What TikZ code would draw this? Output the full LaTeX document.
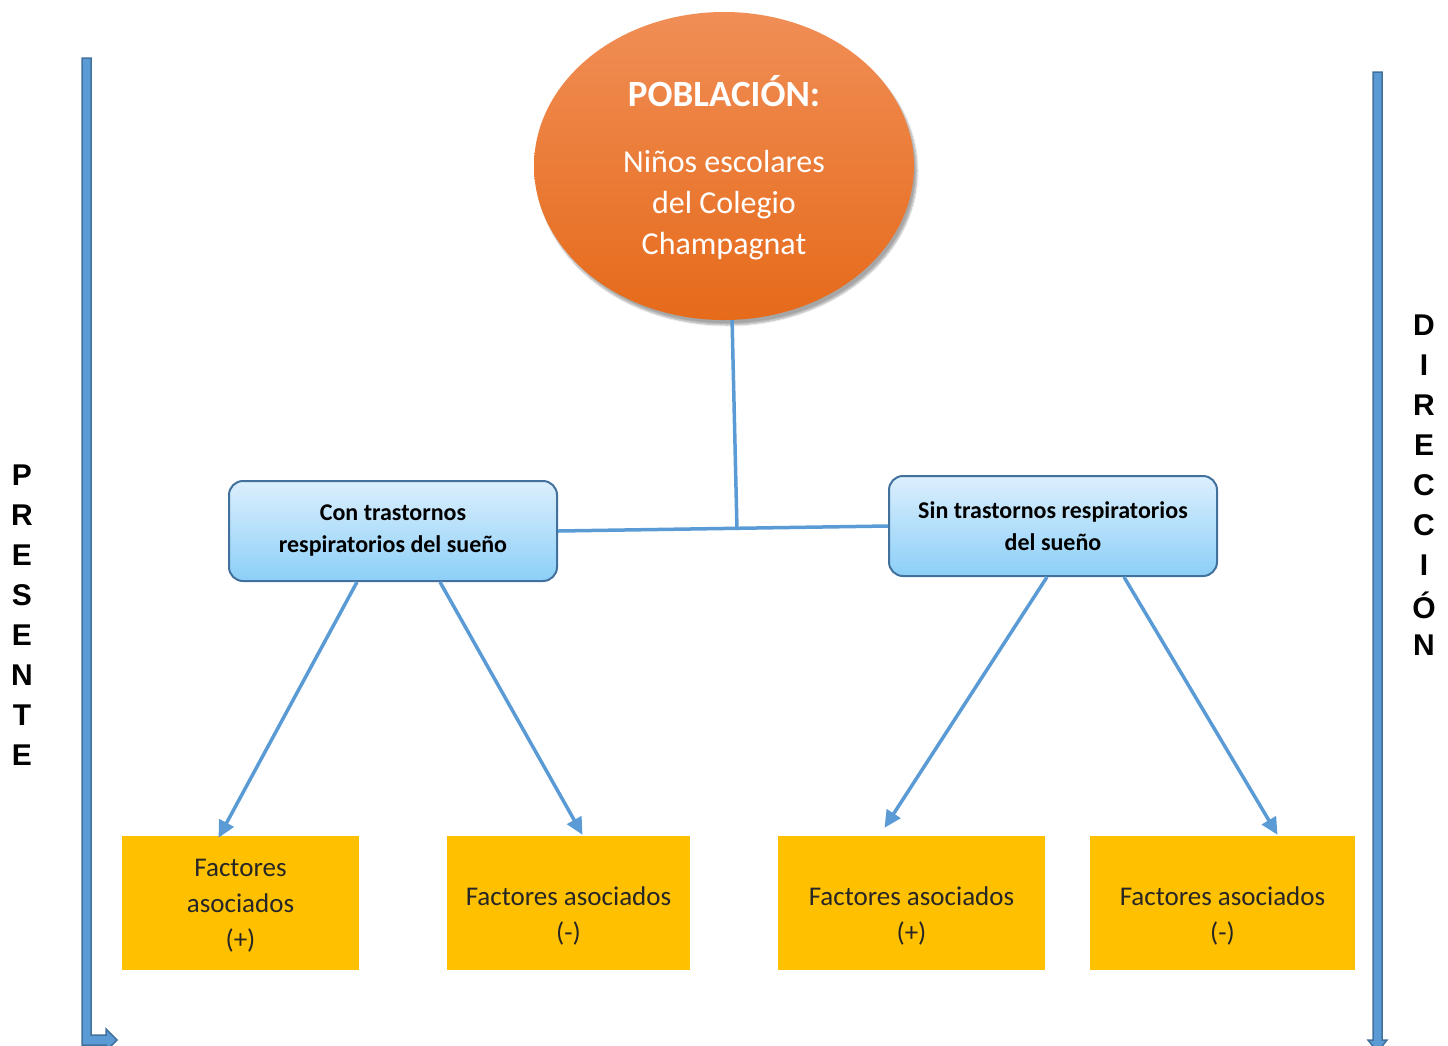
\documentclass[tikz,border=0pt]{standalone}
\usepackage{fontspec}
\setmainfont{Carlito}
\newfontfamily\arialf{Liberation Sans}
\usetikzlibrary{shapes.geometric,arrows.meta,shadows.blur}

\definecolor{lineaazul}{HTML}{5B9BD5}
\definecolor{bordeazul}{HTML}{41719C}
\definecolor{cajaarriba}{HTML}{DCEFFD}
\definecolor{cajaabajo}{HTML}{8CCFF8}
\definecolor{naranjaarriba}{HTML}{F08E56}
\definecolor{naranjaabajo}{HTML}{E66A1A}
\definecolor{amarillo}{HTML}{FFC000}

\tikzset{
	caja/.style={draw=bordeazul, line width=2pt, rounded corners=14pt, top color=cajaarriba, bottom color=cajaabajo,
		minimum width=328pt, minimum height=100pt, align=center, font=\bfseries\fontsize{24}{32}\selectfont},
	factor/.style={fill=amarillo, minimum height=134pt},
	factortxt/.style={align=center, text=black!85, font=\fontsize{27}{36}\selectfont},
	flecha/.style={draw=lineaazul, line width=3.5pt, -{Triangle[length=17pt,width=16pt]}},
	linea/.style={draw=lineaazul, line width=3.5pt},
	letra/.style={font=\arialf\bfseries\fontsize{30}{30}\selectfont},
	barra/.style={fill=lineaazul, draw=bordeazul, line width=1.5pt}
}

\begin{document}
\begin{tikzpicture}[x=1pt, y=-1pt]
	\useasboundingbox (0,0) rectangle (1448,1045);

	% barras laterales
	\draw[barra] (82,58) -- (91,58) -- (91,1035) -- (106,1035) -- (106,1029) -- (117,1040)
		-- (106,1051) -- (106,1045) -- (82,1045) -- cycle;
	\draw[barra] (1373,72) -- (1382,72) -- (1382,1040) -- (1387,1040) -- (1377.5,1052)
		-- (1368,1040) -- (1373,1040) -- cycle;

	\foreach \l [count=\i] in {P,R,E,S,E,N,T,E}
		\node[letra] (pres\i) at (22, 435+40*\i) {\l};
	\foreach \l [count=\i] in {D,I,R,E,C,C,I,Ó,N}
		\node[letra] (dir\i) at (1424, 285+40*\i) {\l};

	% poblacion
	\node[ellipse, minimum width=380pt, minimum height=308pt, inner sep=0pt,
		top color=naranjaarriba, bottom color=naranjaabajo,
		blur shadow={shadow xshift=3pt, shadow yshift=-5pt, shadow opacity=35, shadow blur steps=8}] (pob) at (724,166) {};
	\node[text=white, align=center, font=\fontsize{32}{41}\selectfont] (pobtxt) at (724,168)
		{{\bfseries\fontsize{37}{40}\selectfont POBLACIÓN:}\\[25pt] Niños escolares\\del Colegio\\Champagnat};

	\node[caja] (con) at (393,531) {Con trastornos\\respiratorios del sueño};
	\node[caja] (sin) at (1053,526) {Sin trastornos respiratorios\\del sueño};

	\coordinate (junta) at (737,530);
	\draw[linea] (pob.-87) -- (junta);
	\draw[linea] (con.east) -- (sin.west);

	\node[factor, minimum width=237pt] (f1) at (240.5,903) {};
	\node[factor, minimum width=243pt] (f2) at (568.5,903) {};
	\node[factor, minimum width=267pt] (f3) at (911.5,903) {};
	\node[factor, minimum width=265pt] (f4) at (1222.5,903) {};
	\node[factortxt] (f1t) at ([yshift=-3pt]f1.center) {Factores\\asociados\\(+)};
	\node[factortxt] (f2t) at ([yshift=-13pt]f2.center) {Factores asociados\\(-)};
	\node[factortxt] (f3t) at ([yshift=-13pt]f3.center) {Factores asociados\\(+)};
	\node[factortxt] (f4t) at ([yshift=-13pt]f4.center) {Factores asociados\\(-)};

	\draw[flecha] ([xshift=-36pt]con.south) -- ([xshift=-22pt, yshift=-2pt]f1.north);
	\draw[flecha] ([xshift=47pt]con.south) -- ([xshift=14pt, yshift=1pt]f2.north);
	\draw[flecha] ([xshift=-6pt]sin.south) -- ([xshift=-27pt, yshift=8pt]f3.north);
	\draw[flecha] ([xshift=71pt]sin.south) -- ([xshift=55pt, yshift=1pt]f4.north);
\end{tikzpicture}
\end{document}
